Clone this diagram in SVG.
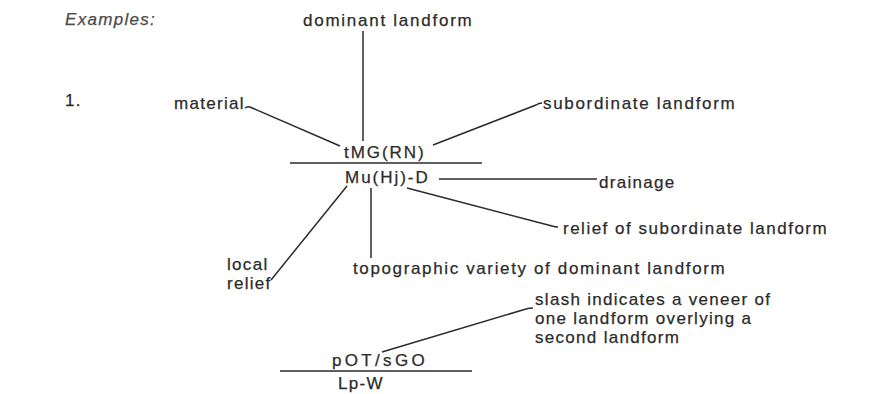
<svg xmlns="http://www.w3.org/2000/svg" width="884" height="394" viewBox="0 0 884 394">
<style>
text{font-family:"Liberation Sans",Arial,sans-serif;font-size:17px;letter-spacing:1.3px;fill:#2b2b2b;stroke:#2b2b2b;stroke-width:0.25}
.it{font-style:italic;fill:#4a4a4a;stroke:#4a4a4a}
.c line,.c path{stroke:#2b2b2b;stroke-width:1.5;fill:none}
.rule{stroke:#2b2b2b;stroke-width:1.5}
</style>
<rect width="884" height="394" fill="#ffffff"/>
<g id="examples"><text class="it" x="65" y="25">Examples:</text></g>
<g id="num1"><text x="65" y="106">1.</text></g>
<g id="dominant"><text x="303" y="26" textLength="170" lengthAdjust="spacing">dominant landform</text></g>
<g id="material"><text x="174" y="109">material</text></g>
<g id="subordinate"><text x="543" y="109" textLength="193" lengthAdjust="spacing">subordinate landform</text></g>
<g id="formula1">
<text x="344" y="158" textLength="81" lengthAdjust="spacing">tMG(RN)</text>
<line class="rule" x1="290" y1="163" x2="482" y2="163"/>
<text x="345" y="183" textLength="84" lengthAdjust="spacing">Mu(Hj)-D</text>
</g>
<g id="drainage"><text x="599" y="188">drainage</text></g>
<g id="reliefsub"><text x="563" y="234" textLength="265" lengthAdjust="spacing">relief of subordinate landform</text></g>
<g id="local"><text x="227" y="270">local</text><text x="227" y="289">relief</text></g>
<g id="topo"><text x="353" y="274" textLength="373" lengthAdjust="spacing">topographic variety of dominant landform</text></g>
<g id="slash"><text x="535" y="305">slash indicates a veneer of</text><text x="535" y="324">one landform overlying a</text><text x="535" y="343">second landform</text></g>
<g id="formula2">
<text x="332" y="366" textLength="94" lengthAdjust="spacing">pOT/sGO</text>
<line class="rule" x1="280" y1="371" x2="472" y2="371"/>
<text x="338" y="389">Lp-W</text>
</g>
<g class="c" id="connectors">
<line x1="363" y1="31" x2="363" y2="141"/>
<path d="M245 108 Q247 106 250 107 L340 146"/>
<path d="M433 145 L536 105 Q539 103 542 103"/>
<line x1="439" y1="179" x2="597" y2="179"/>
<path d="M407 188 L552 226 Q555 227 558 227"/>
<line x1="371" y1="188" x2="371" y2="258"/>
<line x1="347" y1="186" x2="271" y2="280"/>
<path d="M382 352 L526 309 Q529 308 533 308"/>
</g>
</svg>
